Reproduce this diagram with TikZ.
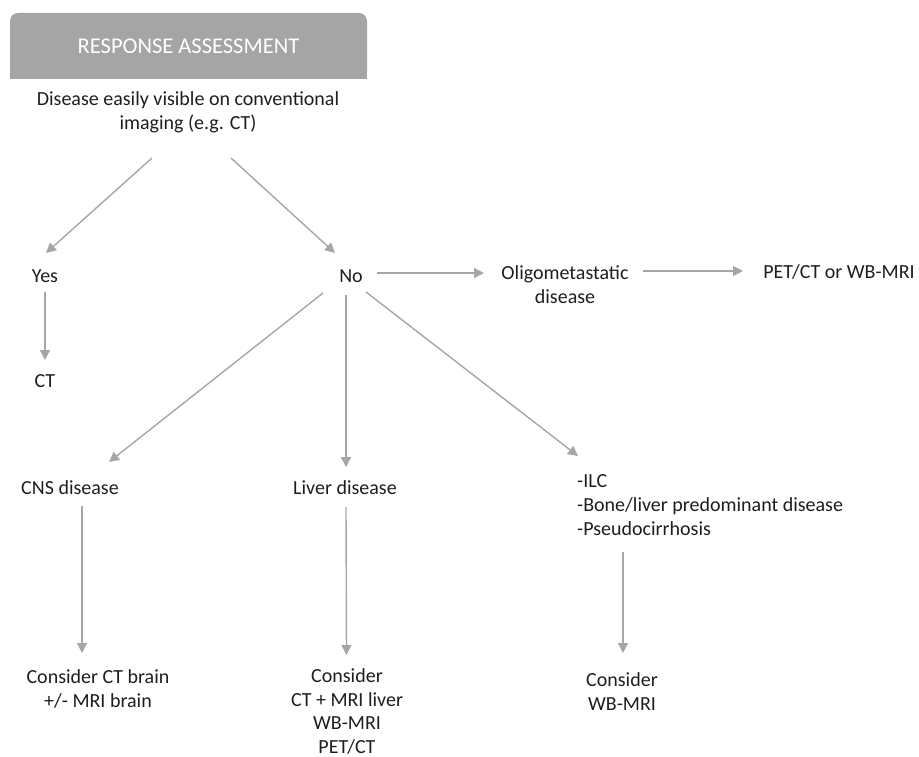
\documentclass[tikz,border=0pt]{standalone}
\usepackage{fontspec}
\setmainfont{Carlito}
\usetikzlibrary{arrows.meta}

\definecolor{flowgray}{HTML}{A6A6A6}
\definecolor{headgray}{HTML}{A5A5A5}
\definecolor{textdark}{HTML}{1E1E1E}

\tikzset{
  txt/.style={inner sep=0pt, align=center, text=textdark,
    font=\fontsize{20}{24}\selectfont},
  headbox/.style={fill=headgray, rounded corners=8pt, text=white,
    minimum width=357pt, minimum height=66pt,
    font=\fontsize{22.5}{26}\selectfont},
  arr/.style={draw=flowgray, line width=1.4pt,
    -{Triangle[length=10pt,width=10pt]}},
}

\begin{document}
\begin{tikzpicture}[x=1pt,y=-1pt]
    \useasboundingbox (0,0) rectangle (919,757);

    % Header with rounded top corners only
    \fill[headgray] (10,46) rectangle (367,79);
    \node[headbox] (head) at (188.5,46) {RESPONSE ASSESSMENT};

    % Question and first split
    \node[txt] (disease) at (188,112.5) {Disease easily visible on conventional\\imaging (e.g. CT)};
    \node[txt] (yes) at (45,276) {Yes};
    \node[txt] (no) at (351,276) {No};
    \node[txt] (ct) at (45,381) {CT};
    \node[txt] (oligo) at (565,285) {Oligometastatic\\disease};
    \node[txt] (pet) at (839,272) {PET/CT or WB-MRI};

    % Second row
    \node[txt] (cns) at (70,488) {CNS disease};
    \node[txt] (liver) at (345,488) {Liver disease};
    \node[txt, align=left, anchor=west] (ilc) at (577,505) {-ILC\\-Bone/liver predominant disease\\-Pseudocirrhosis};

    % Recommendations
    \node[txt] (cnsrec) at (98,689) {Consider CT brain\\+/- MRI brain};
    \node[txt, font=\fontsize{20}{23.5}\selectfont] (liverrec) at (347,711.5) {Consider\\CT + MRI liver\\WB-MRI\\PET/CT};
    \node[txt] (ilcrec) at (622,692) {Consider\\WB-MRI};

    % Connectors
    \draw[arr] ([shift={(-36,45.5)}]disease.center) -- ([shift={(1,-23)}]yes.center);
    \draw[arr] ([shift={(43,45.5)}]disease.center) -- ([shift={(-16,-23)}]no.center);
    \draw[arr] ([shift={(0,16)}]yes.center) -- ([shift={(0,-21)}]ct.center);
    \draw[arr] ([shift={(26,-3)}]no.center) -- ([shift={(-81,-12)}]oligo.center);
    \draw[arr] ([shift={(78,-14)}]oligo.center) -- ([shift={(-96,-1)}]pet.center);
    \draw[arr] ([shift={(-28,17)}]no.center) -- ([shift={(39,-26)}]cns.center);
    \draw[arr] ([shift={(-5,19)}]no.center) -- ([shift={(1,-21)}]liver.center);
    \draw[arr] ([shift={(15,16)}]no.center) -- ([shift={(1,-49)}]ilc.west);
    \draw[arr] ([shift={(12,18)}]cns.center) -- ([shift={(-16,-36)}]cnsrec.center);
    \draw[arr] ([shift={(1,19)}]liver.center) -- ([shift={(-0.5,-56.5)}]liverrec.center);
    \draw[arr] ([shift={(46,47)}]ilc.west) -- ([shift={(1,-39)}]ilcrec.center);
\end{tikzpicture}
\end{document}
